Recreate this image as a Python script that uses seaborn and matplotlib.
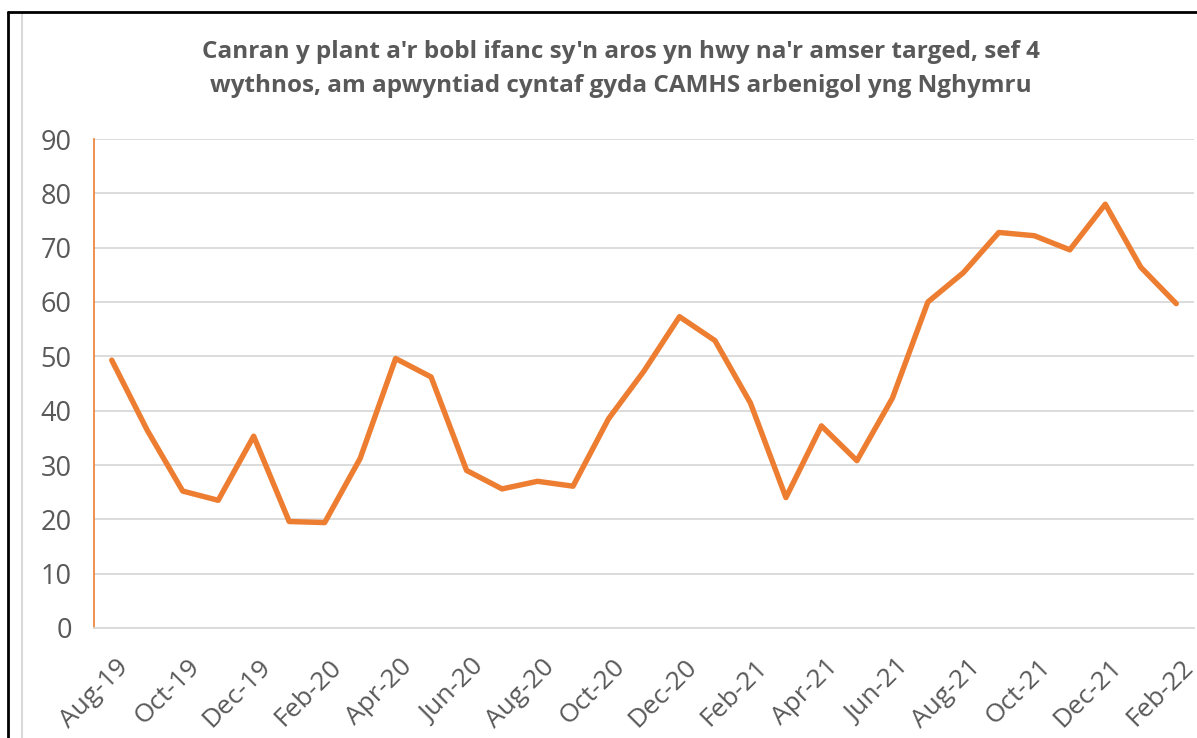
import numpy as np
import pandas as pd
import matplotlib
matplotlib.use("Agg")
import matplotlib.pyplot as plt
import matplotlib.transforms as mtransforms
from matplotlib.lines import Line2D
import seaborn as sns

# ── Data ──────────────────────────────────────────────────────────────────────
months = [
    "Aug-19", "Sep-19", "Oct-19", "Nov-19", "Dec-19", "Jan-20", "Feb-20",
    "Mar-20", "Apr-20", "May-20", "Jun-20", "Jul-20", "Aug-20", "Sep-20",
    "Oct-20", "Nov-20", "Dec-20", "Jan-21", "Feb-21", "Mar-21", "Apr-21",
    "May-21", "Jun-21", "Jul-21", "Aug-21", "Sep-21", "Oct-21", "Nov-21",
    "Dec-21", "Jan-22", "Feb-22",
]
percent_waiting = [
    49.3, 36.4, 25.2, 23.5, 35.3, 19.6, 19.4,
    31.2, 49.6, 46.2, 29.0, 25.6, 27.0, 26.1,
    38.5, 47.3, 57.3, 52.9, 41.4, 24.0, 37.2,
    30.8, 42.3, 60.0, 65.4, 72.8, 72.2, 69.6,
    78.0, 66.4, 59.7,
]
y_ticks = [0, 10, 20, 30, 40, 50, 60, 70, 80, 90]
title = ("Canran y plant a'r bobl ifanc sy'n aros yn hwy na'r amser targed, sef 4\n"
         "wythnos, am apwyntiad cyntaf gyda CAMHS arbenigol yng Nghymru")

ORANGE = "#ED7D31"
TEXT = "#595959"
GRID = "#D9D9D9"

sns.set_style("white")
plt.rcParams["font.family"] = ["Open Sans", "DejaVu Sans"]

df = pd.DataFrame({"pos": np.arange(len(months)), "value": percent_waiting})

fig = plt.figure(figsize=(11.97, 7.38), dpi=100)
ax = fig.add_axes([94 / 1197, 110 / 738, 1100 / 1197, 489 / 738])

sns.lineplot(data=df, x="pos", y="value", ax=ax, color=ORANGE,
             linewidth=3.9, solid_joinstyle="round", solid_capstyle="round")

ax.set_xlim(-0.5, len(months) - 0.5)
ax.set_ylim(0, 90)
ax.set_yticks(y_ticks)
ax.set_yticklabels([str(v) for v in y_ticks])

# ticks sit on month boundaries, one label every two months
tick_pos = [i - 0.5 for i in range(0, len(months), 2)]
ax.set_xticks(tick_pos)
ax.set_xticklabels(months[::2])
ax.set_xlabel("")
ax.set_ylabel("")

ax.grid(axis="y", color=GRID, linewidth=1.3)
ax.set_axisbelow(True)

for s in ["top", "right"]:
    ax.spines[s].set_visible(False)
ax.spines["left"].set_color(ORANGE)
ax.spines["left"].set_linewidth(1.2)
ax.spines["bottom"].set_color(GRID)
ax.spines["bottom"].set_linewidth(1.3)

ax.tick_params(axis="y", length=0, pad=16, labelsize=19.5, labelcolor=TEXT)
ax.tick_params(axis="x", length=6, width=1.3, color=GRID, pad=13,
               labelsize=19, labelcolor=TEXT)

offset = mtransforms.ScaledTranslation(22 / 100, 0, fig.dpi_scale_trans)
for lbl in ax.get_xticklabels():
    lbl.set_rotation(45)
    lbl.set_ha("right")
    lbl.set_va("top")
    lbl.set_rotation_mode("anchor")
    lbl.set_transform(lbl.get_transform() + offset)

fig.text(621 / 1197, 1 - 69 / 738, title, ha="center", va="center",
         fontsize=17.5, fontweight="bold", color=TEXT, linespacing=1.55)

# outer frame of the screenshot
fig.add_artist(Line2D([22 / 1197, 22 / 1197], [0, 1 - 13 / 738],
                      transform=fig.transFigure, color=GRID, linewidth=1.5))
fig.add_artist(Line2D([8 / 1197, 8 / 1197], [0, 1 - 12 / 738],
                      transform=fig.transFigure, color="black", linewidth=2))
fig.add_artist(Line2D([8 / 1197, 1], [1 - 12 / 738, 1 - 12 / 738],
                      transform=fig.transFigure, color="black", linewidth=2))

fig.savefig("out.png", dpi=100)
plt.close(fig)
